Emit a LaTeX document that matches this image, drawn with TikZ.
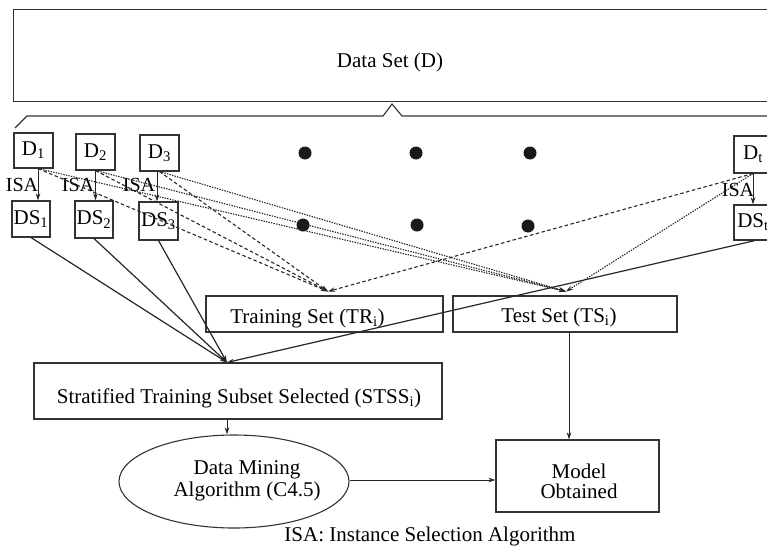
\documentclass[tikz,border=0pt]{standalone}
\usepackage{fontspec}
\setmainfont{Liberation Serif}
\usetikzlibrary{arrows.meta,shapes.geometric}
\begin{document}
\begin{tikzpicture}[x=1pt,y=-1pt,
  box/.style={draw=black!80, line width=1.1pt, inner sep=0pt, font=\fontsize{21}{23}\selectfont},
  lbl/.style={inner sep=0pt, font=\fontsize{21}{22}\selectfont, align=center},
  isa/.style={inner sep=0pt, font=\fontsize{20}{22}\selectfont},
  arr/.style={-{Stealth[length=7pt,width=4.5pt]}, line width=0.9pt, black!85},
  solidarr/.style={arr, line width=1.2pt},
  dsh/.style={arr, dash pattern=on 3.5pt off 2.5pt, line width=1.1pt},
  dtt/.style={arr, dash pattern=on 1.4pt off 1.2pt, line width=1.1pt},
  blob/.style={circle, fill=black!90, minimum size=13pt, inner sep=0pt}
]
\useasboundingbox (0,0) rectangle (767,546);
\clip (0,0) rectangle (767,546);

% Data set
\node[box, minimum width=780pt, minimum height=91.5pt, anchor=north west] (DS) at (12.7,9) {};
\node[lbl, anchor=base] (DStxt) at (390,67) {Data Set (D)};
\draw[line width=1.1pt, black!80] (15,128) -- (27,116) -- (383,116) -- (392,104) -- (402,116) -- (780,116);

% partitions
\node[box, minimum width=39pt, minimum height=35pt] (D1) at (33.5,150.5) {D\textsubscript{1}};
\node[box, minimum width=39pt, minimum height=36pt] (D2) at (95.5,152) {D\textsubscript{2}};
\node[box, minimum width=39pt, minimum height=36pt] (D3) at (159.5,153) {D\textsubscript{3}};
\node[box, minimum width=38pt, minimum height=37pt] (Dt) at (753,154.5) {D\textsubscript{t}\hspace{5pt}};
\node[box, minimum width=38pt, minimum height=36pt] (DS1) at (31,219) {DS\textsubscript{1}};
\node[box, minimum width=38pt, minimum height=37pt] (DS2) at (94,219.5) {DS\textsubscript{2}};
\node[box, minimum width=39pt, minimum height=38pt] (DS3) at (158.5,221) {DS\textsubscript{3}};
\node[box, minimum width=38pt, minimum height=35pt] (DSt) at (753,222.5) {DS\textsubscript{t}\hspace{6pt}};

% dots
\node[blob] (b1) at (305,153) {};
\node[blob] (b2) at (416,153) {};
\node[blob] (b3) at (530,153) {};
\node[blob] (b4) at (303,225) {};
\node[blob] (b5) at (417,225) {};
\node[blob] (b6) at (528,226) {};

% sets
\node[box, minimum width=237pt, minimum height=36pt] (TR) at (324.5,314) {};
\node[lbl, anchor=base] (TRtxt) at (307.5,323) {Training Set (TR\textsubscript{i})};
\node[box, minimum width=224pt, minimum height=36pt] (TS) at (565,314) {};
\node[lbl, anchor=base] (TStxt) at (559,322) {Test Set (TS\textsubscript{i})};
\node[box, minimum width=408pt, minimum height=56pt] (STSS) at (238,391) {};
\node[lbl, anchor=base] (STSStxt) at (239,403) {Stratified Training Subset Selected (STSS\textsubscript{i})};
\node[ellipse, draw=black!80, line width=1.1pt, minimum width=230pt, minimum height=93pt, inner sep=0pt] (DM) at (234,481.5) {};
\node[lbl] (DMtxt) at (247,481) {Data Mining\\Algorithm (C4.5)};
\node[box, minimum width=163pt, minimum height=72pt] (MO) at (577.5,476) {};
\node[lbl, font=\fontsize{21}{20}\selectfont] (MOtxt) at (579,481) {Model\\Obtained};
\node[lbl, anchor=base] (cap) at (430,541.5) {ISA: Instance Selection Algorithm};

% coordinates
\coordinate (d1o) at ([xshift=4.5pt]D1.south);
\coordinate (d2o) at (D2.south);
\coordinate (d3o) at (D3.south);
\coordinate (dto) at (Dt.south);
\coordinate (trin) at ([xshift=3.5pt,yshift=4pt]TR.north);
\coordinate (tsin) at ([xshift=1pt,yshift=4pt]TS.north);
\coordinate (stssin) at ([xshift=-11pt]STSS.north);

% ISA arrows
\draw[arr] (d1o) -- (d1o |- DS1.north);
\draw[arr] (d2o) -- (d2o |- DS2.north);
\draw[arr] ([xshift=-2.5pt]d3o) -- ([xshift=-2.5pt]d3o |- DS3.north);
\draw[arr] (dto) -- (dto |- DSt.north);
\node[isa] (isa1) at (22,185) {ISA};
\node[isa] (isa2) at (78,185) {ISA};
\node[isa] (isa3) at (139,185) {ISA};
\node[isa] (isat) at (738,190) {ISA};

% dashed to training, dotted to test
\foreach \s in {d1o,d2o,d3o,dto} {
  \draw[dsh] (\s) -- (trin);
  \draw[dtt] (\s) -- (tsin);
}

% solid to STSS
\draw[solidarr] (DS1.south) -- (stssin);
\draw[solidarr] (DS2.south) -- (stssin);
\draw[solidarr] (DS3.south) -- (stssin);
\draw[solidarr] ([xshift=2pt]DSt.south) -- (stssin);

% lower flow
\draw[arr] (stssin |- STSS.south) -- (stssin |- DM.north);
\draw[arr] ([yshift=1.5pt]DM.east) -- ([yshift=1.5pt]DM.east -| MO.west);
\draw[arr] ([xshift=4pt]TS.south) -- ([xshift=4pt]TS.south |- MO.north);
\end{tikzpicture}
\end{document}
